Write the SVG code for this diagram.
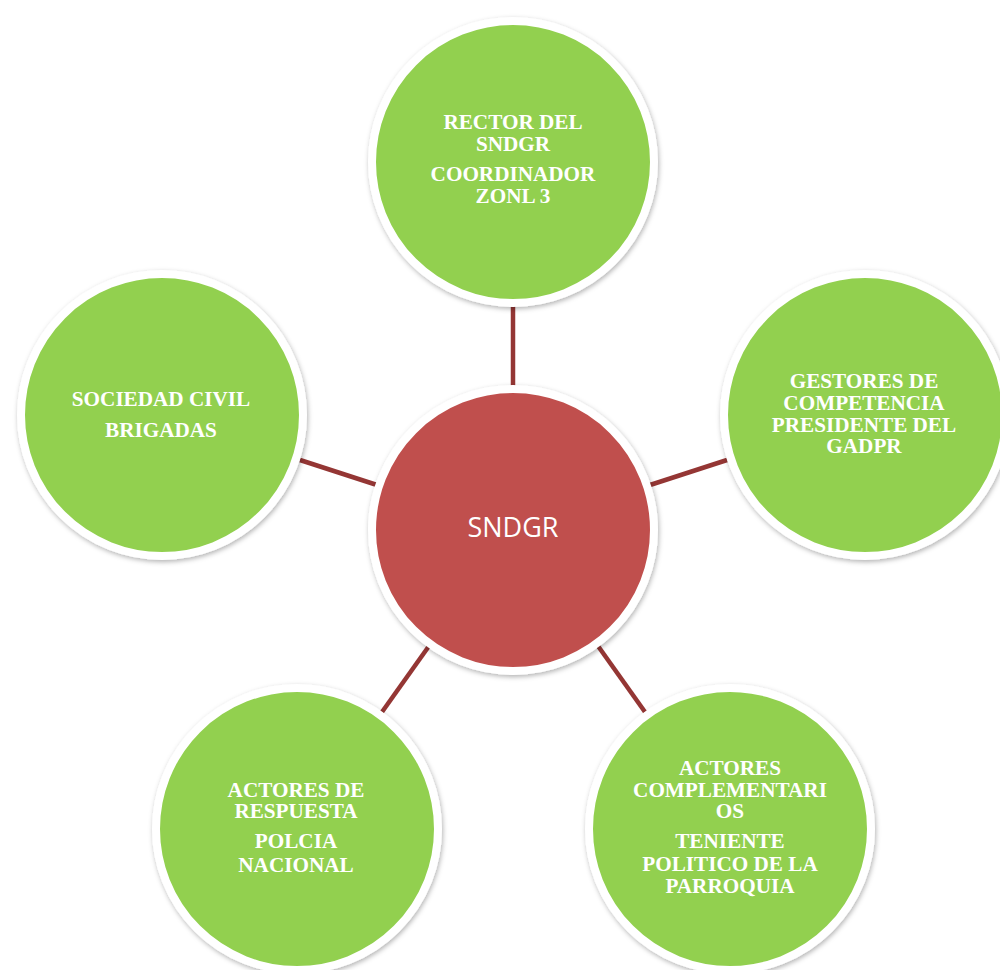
<svg xmlns="http://www.w3.org/2000/svg" width="1000" height="970" viewBox="0 0 1000 970">
<style>
.ring{stroke:#ffffff;stroke-width:8;filter:url(#sh)}
.g{fill:#92D050}
.r{fill:#C0504D}
.t{font-family:"Liberation Serif","Times New Roman",serif;font-weight:bold;font-size:21.2px;fill:#ffffff;text-anchor:middle}
.c{font-family:"Open Sans","Noto Sans",sans-serif;font-size:27px;fill:#ffffff;text-anchor:middle}
.ln{stroke:#943634;stroke-width:4.5;fill:none}
</style>
<defs>
<filter id="sh" x="-10%" y="-10%" width="120%" height="120%">
<feDropShadow dx="1" dy="2" stdDeviation="2.5" flood-color="#000000" flood-opacity="0.3"/>
</filter>
</defs>
<rect width="1000" height="970" fill="#ffffff"/>
<g id="connectors">
<line class="ln" x1="513" y1="305" x2="513" y2="387"/>
<line class="ln" x1="300" y1="460" x2="377" y2="485"/>
<line class="ln" x1="650" y1="485" x2="727" y2="460"/>
<line class="ln" x1="429" y1="646" x2="382" y2="712"/>
<line class="ln" x1="598" y1="646" x2="645" y2="712"/>
</g>
<g id="center">
<circle class="ring r" cx="513" cy="530" r="141"/>
<text class="c" x="513" y="537">SNDGR</text>
</g>
<g id="top">
<circle class="ring g" cx="513" cy="162" r="141"/>
<text class="t" x="513" y="129">RECTOR DEL</text>
<text class="t" x="513" y="151">SNDGR</text>
<text class="t" x="513" y="181">COORDINADOR</text>
<text class="t" x="513" y="203">ZONL 3</text>
</g>
<g id="left">
<circle class="ring g" cx="162" cy="415" r="141"/>
<text class="t" x="161" y="406">SOCIEDAD CIVIL</text>
<text class="t" x="161" y="437">BRIGADAS</text>
</g>
<g id="right">
<circle class="ring g" cx="865" cy="415" r="141"/>
<text class="t" x="864" y="388">GESTORES DE</text>
<text class="t" x="864" y="410">COMPETENCIA</text>
<text class="t" x="864" y="432">PRESIDENTE DEL</text>
<text class="t" x="864" y="453">GADPR</text>
</g>
<g id="bottom-left">
<circle class="ring g" cx="297" cy="829" r="141"/>
<text class="t" x="296" y="797">ACTORES DE</text>
<text class="t" x="296" y="818">RESPUESTA</text>
<text class="t" x="296" y="848">POLCIA</text>
<text class="t" x="296" y="872">NACIONAL</text>
</g>
<g id="bottom-right">
<circle class="ring g" cx="730" cy="829" r="141"/>
<text class="t" x="730" y="775">ACTORES</text>
<text class="t" x="730" y="797">COMPLEMENTARI</text>
<text class="t" x="730" y="818">OS</text>
<text class="t" x="730" y="848">TENIENTE</text>
<text class="t" x="730" y="871">POLITICO DE LA</text>
<text class="t" x="730" y="893">PARROQUIA</text>
</g>
</svg>
